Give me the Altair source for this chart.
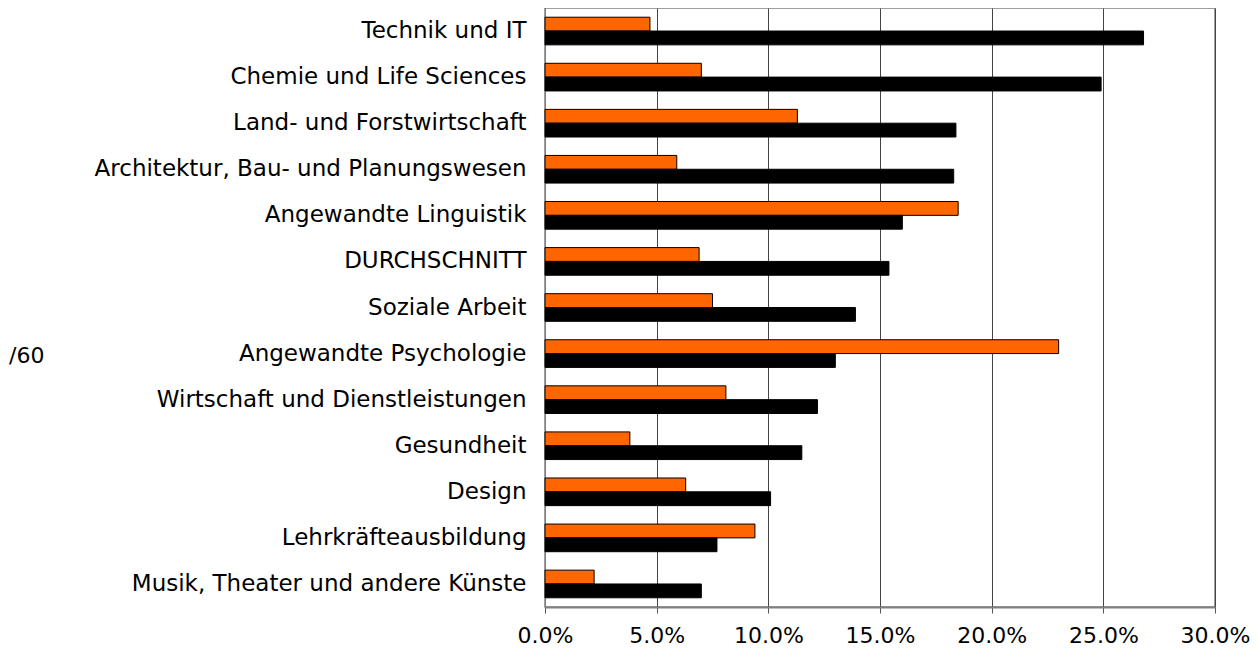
import altair as alt
import pandas as pd

categories = [
    "Technik und IT",
    "Chemie und Life Sciences",
    "Land- und Forstwirtschaft",
    "Architektur, Bau- und Planungswesen",
    "Angewandte Linguistik",
    "DURCHSCHNITT",
    "Soziale Arbeit",
    "Angewandte Psychologie",
    "Wirtschaft und Dienstleistungen",
    "Gesundheit",
    "Design",
    "Lehrkräfteausbildung",
    "Musik, Theater und andere Künste",
]
orange_values = [0.047, 0.070, 0.113, 0.059, 0.185, 0.069, 0.075, 0.230, 0.081, 0.038, 0.063, 0.094, 0.022]
black_values = [0.268, 0.249, 0.184, 0.183, 0.160, 0.154, 0.139, 0.130, 0.122, 0.115, 0.101, 0.077, 0.070]
series = ["A", "B"]
colors = ["#FF6600", "#000000"]

rows = []
for c, o, b in zip(categories, orange_values, black_values):
    rows.append({"cat": c, "series": "A", "value": o})
    rows.append({"cat": c, "series": "B", "value": b})
df = pd.DataFrame(rows)

FONT = "DejaVu Sans"

bars = alt.Chart(df).mark_bar(stroke="#000000", strokeWidth=1).encode(
    y=alt.Y("cat:N", sort=categories, title=None,
            scale=alt.Scale(paddingInner=0.4, paddingOuter=0.2),
            axis=alt.Axis(labelFontSize=23, labelFont=FONT, labelColor="#000000",
                          labelPadding=19, ticks=False, domainColor="#808080",
                          domainWidth=1, labelLimit=700)),
    x=alt.X("value:Q", title=None,
            scale=alt.Scale(domain=[0, 0.30], nice=False),
            axis=alt.Axis(format=".1%", values=[0, 0.05, 0.10, 0.15, 0.20, 0.25, 0.30],
                          labelFontSize=22, labelFont=FONT, labelColor="#000000",
                          labelPadding=12, tickSize=6, tickColor="#555555",
                          labelFlush=False,
                          domainColor="#808080", domainWidth=2,
                          grid=True, gridColor="#444444", gridWidth=1)),
    yOffset=alt.YOffset("series:N", sort=series),
    color=alt.Color("series:N", scale=alt.Scale(domain=series, range=colors), legend=None),
)

note = alt.Chart(pd.DataFrame({"t": ["/60"]})).mark_text(
    align="left", baseline="middle", fontSize=22, font=FONT, color="#000000"
).encode(x=alt.value(-536), y=alt.value(348), text="t:N")

chart = alt.layer(bars, note).properties(
    width=670, height=599,
    autosize=alt.AutoSizeParams(type="none"),
    padding={"left": 537, "top": 0, "right": 35, "bottom": 42},
).configure_view(stroke="#808080", strokeWidth=1.5)

chart.save("out.html", embed_options={"renderer": "svg", "actions": False})
